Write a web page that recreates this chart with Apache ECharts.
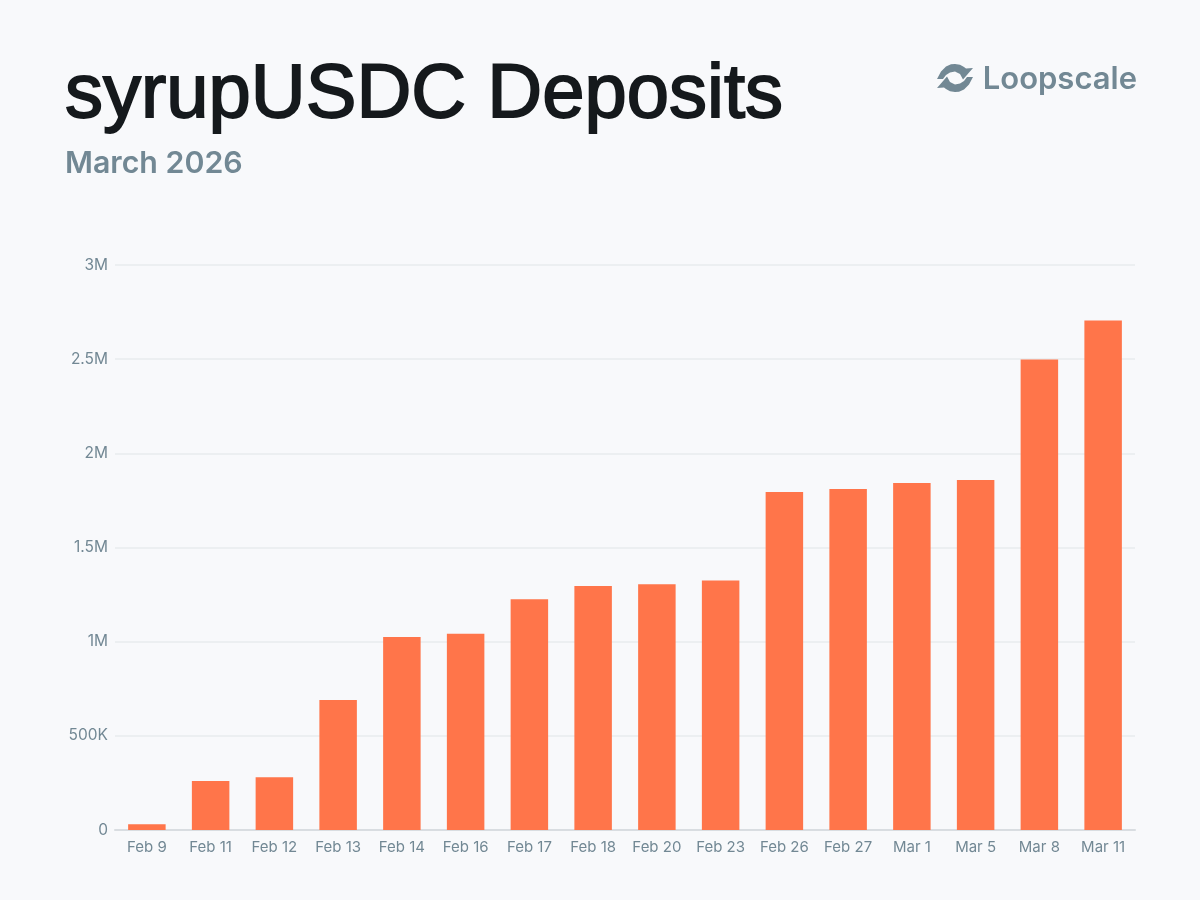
<!DOCTYPE html>
<html>
<head>
<meta charset="utf-8">
<title>syrupUSDC Deposits</title>
<script src="https://cdn.jsdelivr.net/npm/echarts@6/dist/echarts.min.js"></script>
<style>
  html, body { margin: 0; padding: 0; background: #f8f9fb; }
  #chart { width: 1200px; height: 900px; }
</style>
</head>
<body>
<div id="chart"></div>
<script>
const dates = ["Feb 9", "Feb 11", "Feb 12", "Feb 13", "Feb 14", "Feb 16", "Feb 17", "Feb 18",
  "Feb 20", "Feb 23", "Feb 26", "Feb 27", "Mar 1", "Mar 5", "Mar 8", "Mar 11"];
const deposits = [30000, 260000, 280000, 690000, 1025000, 1042000, 1225000, 1295000,
  1305000, 1325000, 1795000, 1810000, 1842000, 1858000, 2498000, 2705000];

const SLATE = "#728894";
const INK = "#15191c";
const chart = echarts.init(document.getElementById("chart"));

// logo: one half of the loop, the other half is the same shape turned around its centre
const logoHalf = [[937, 79], [941, 71.5], [946, 66.5], [951, 64.3], [955, 64], [960, 64.8], [964, 67],
  [966, 68.5], [973, 68], [963, 79.5], [960, 74], [955, 71.5], [950, 72.5], [946, 75], [943, 79]];

function formatTick(v) {
  if (v === 0) return "0";
  if (v >= 1000000) return v / 1000000 + "M";
  return v / 1000 + "K";
}

chart.setOption({
  backgroundColor: "#f8f9fb",
  animation: false,
  textStyle: { fontFamily: "Inter" },
  title: [
    {
      text: "syrupUSDC Deposits",
      left: 65,
      top: 58,
      padding: 0,
      textStyle: {
        fontFamily: "Liberation Sans",
        fontSize: 76,
        fontWeight: 400,
        color: INK,
        textBorderColor: INK,
        textBorderWidth: 1.8,
      },
    },
    {
      text: "March 2026",
      left: 65,
      top: 149,
      padding: 0,
      textStyle: { fontFamily: "Inter", fontSize: 30.3, fontWeight: 600, color: SLATE },
    },
    {
      text: "Loopscale",
      right: 63,
      top: 64,
      padding: 0,
      textStyle: { fontFamily: "Inter", fontSize: 31, fontWeight: 600, color: SLATE },
    },
  ],
  graphic: [
    { type: "polygon", shape: { points: logoHalf }, style: { fill: SLATE } },
    {
      type: "polygon",
      shape: { points: logoHalf.map(([x, y]) => [1910 - x, 156 - y]) },
      style: { fill: SLATE },
    },
  ],
  grid: { left: 115, right: 65, top: 265, bottom: 70 },
  xAxis: {
    type: "category",
    data: dates,
    axisLine: { lineStyle: { color: "#d9dde1", width: 2 } },
    axisTick: { show: false },
    axisLabel: { color: SLATE, fontSize: 15, margin: 10, interval: 0 },
  },
  yAxis: {
    type: "value",
    min: 0,
    max: 3000000,
    interval: 500000,
    axisLine: { show: false },
    axisTick: { show: false },
    axisLabel: { color: SLATE, fontSize: 15.5, margin: 7, formatter: formatTick },
    splitLine: { lineStyle: { color: "#e8ebee", width: 1.5 } },
  },
  series: [
    {
      type: "bar",
      data: deposits,
      barWidth: 37.5,
      itemStyle: { color: "#ff754a" },
    },
  ],
});
</script>
</body>
</html>
